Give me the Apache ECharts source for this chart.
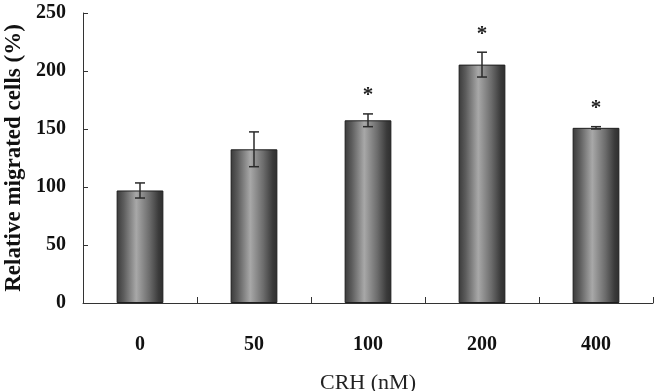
<!DOCTYPE html>
<html>
<head>
<meta charset="utf-8">
<script src="https://cdn.jsdelivr.net/npm/echarts@6/dist/echarts.min.js"></script>
<style>
  html, body { margin: 0; padding: 0; background: #fff; }
  #chart { width: 659px; height: 391px; }
</style>
</head>
<body>
<div id="chart"></div>
<script>
// 数据
const categories = ["0", "50", "100", "200", "400"];
const migrated = [97, 132.5, 157.5, 205.5, 151];
const errors = [6.5, 15, 5.5, 10.7, 1];
const marks = ["", "", "*", "*", "*"];
const yTicks = [0, 50, 100, 150, 200, 250];

const serif = '"Liberation Serif", "DejaVu Serif", serif';

const chart = echarts.init(document.getElementById("chart"));

// 误差线 + 星号
function renderError(params, api) {
  const i = api.value(0);
  const v = api.value(1);
  const e = api.value(2);
  const top = api.coord([i, v + e]);
  const bot = api.coord([i, v - e]);
  const x = top[0];
  const half = 5;
  const style = { stroke: "#2a2a2a", lineWidth: 1.5 };
  const children = [
    { type: "line", shape: { x1: x, y1: top[1], x2: x, y2: bot[1] }, style: style },
    { type: "line", shape: { x1: x - half, y1: top[1], x2: x + half, y2: top[1] }, style: style },
    { type: "line", shape: { x1: x - half, y1: bot[1], x2: x + half, y2: bot[1] }, style: style },
  ];
  if (marks[i]) {
    children.push({
      type: "text",
      style: {
        text: marks[i],
        x: x,
        y: top[1] - 18,
        align: "center",
        verticalAlign: "middle",
        fontFamily: serif,
        fontWeight: "bold",
        fontSize: 21,
        fill: "#222",
      },
    });
  }
  return { type: "group", children: children };
}

const option = {
  backgroundColor: "#fff",
  animation: false,
  grid: {
    left: 83,
    right: 6,
    top: 13,
    bottom: 88,
    outerBoundsMode: "none",
  },
  xAxis: {
    type: "category",
    data: categories,
    name: "CRH (nM)",
    nameLocation: "middle",
    nameGap: 69,
    nameTextStyle: { fontFamily: serif, fontSize: 22, color: "#222" },
    axisLine: { show: true, lineStyle: { color: "#333", width: 1 } },
    axisTick: { show: true, inside: true, length: 6, lineStyle: { color: "#333" } },
    axisLabel: {
      margin: 32,
      fontFamily: serif,
      fontWeight: "bold",
      fontSize: 20,
      color: "#111",
    },
  },
  yAxis: {
    type: "value",
    min: yTicks[0],
    max: yTicks[yTicks.length - 1],
    interval: 50,
    name: "Relative migrated cells (%)",
    nameLocation: "middle",
    nameGap: 57,
    nameTextStyle: { fontFamily: serif, fontWeight: "bold", fontSize: 23, color: "#111" },
    splitLine: { show: false },
    axisLine: { show: true, lineStyle: { color: "#333", width: 1 } },
    axisTick: { show: true, inside: true, length: 5, lineStyle: { color: "#333" } },
    axisLabel: {
      margin: 17,
      fontFamily: serif,
      fontWeight: "bold",
      fontSize: 20,
      color: "#111",
    },
  },
  series: [
    {
      type: "bar",
      data: migrated,
      barWidth: "41%",
      itemStyle: {
        borderColor: "#1e1e1e",
        borderWidth: 1,
        color: new echarts.graphic.LinearGradient(0, 0, 1, 0, [
          { offset: 0, color: "#3a3a3a" },
          { offset: 0.15, color: "#5c5c5c" },
          { offset: 0.42, color: "#a8a8a8" },
          { offset: 0.7, color: "#6c6c6c" },
          { offset: 0.9, color: "#3a3a3a" },
          { offset: 1, color: "#2e2e2e" },
        ]),
      },
    },
    {
      type: "custom",
      renderItem: renderError,
      data: migrated.map((v, i) => [i, v, errors[i]]),
      z: 10,
    },
  ],
};

chart.setOption(option);
</script>
</body>
</html>
